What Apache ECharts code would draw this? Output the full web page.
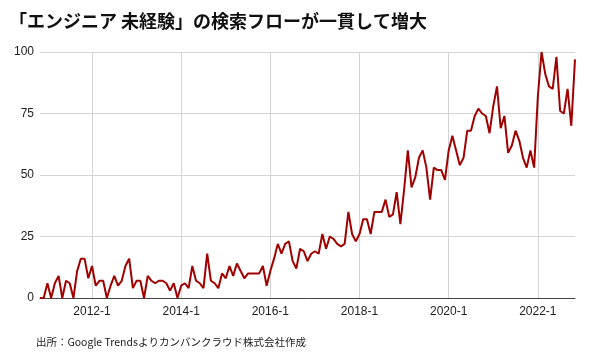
<!DOCTYPE html>
<html>
<head>
<meta charset="utf-8">
<script src="https://cdn.jsdelivr.net/npm/echarts@6/dist/echarts.min.js"></script>
<style>
html,body{margin:0;padding:0;background:#fff;}
#chart{width:590px;height:362px;}
</style>
</head>
<body>
<div id="chart"></div>
<script>
// Monthly categories from 2010-11 to 2022-11
const startYear = 2010, startMonth = 11, monthCount = 145;
const categories = [];
for (let i = 0; i < monthCount; i++) {
  const m = startMonth - 1 + i;
  categories.push((startYear + Math.floor(m / 12)) + '-' + (m % 12 + 1));
}
const tickLabels = ['2012-1', '2014-1', '2016-1', '2018-1', '2020-1', '2022-1'];
const yTicks = [0, 25, 50, 75, 100];
const searchValues = [
  0,0,6,0,6,9,0,7,6,0,
  11,16,16,8,13,5,7,7,0,5,
  9,5,7,13,16,4,7,7,0,9,
  7,6,7,7,6,3,6,0,5,6,
  4,13,7,6,4,18,7,6,4,10,
  8,13,9,14,11,8,10,10,10,10,
  13,5,11,16,22,18,22,23,15,12,
  20,19,15,18,19,18,26,20,25,24,
  22,21,22,35,26,23,26,32,32,26,
  35,35,35,40,33,34,43,30,44,60,
  45,49,57,60,53,40,53,52,52,48,
  60,66,60,54,57,68,68,74,77,75,
  74,67,78,86,69,74,59,62,68,64,
  57,53,60,53,82,100,91,86,85,98,
  76,75,85,70,97
];
const titleText = '「エンジニア 未経験」の検索フローが一貫して増大';
const sourceText = '出所：Google Trendsよりカンバンクラウド株式会社作成';

const showTick = (idx, val) => tickLabels.indexOf(categories[idx]) >= 0;
const chart = echarts.init(document.getElementById('chart'), null, {renderer: 'canvas'});
chart.setOption({
  animation: false,
  backgroundColor: '#fff',
  title: {
    text: titleText,
    left: 4, top: 7,
    textStyle: {fontSize: 18, fontWeight: 'bold', color: '#111', fontFamily: '"Noto Sans CJK JP", sans-serif'}
  },
  grid: {left: 40, right: 15, top: 52, bottom: 64, containLabel: false},
  xAxis: {
    type: 'category',
    data: categories,
    boundaryGap: false,
    axisLine: {show: true, lineStyle: {color: '#444', width: 1}},
    axisTick: {show: false},
    axisLabel: {interval: showTick, color: '#222', fontSize: 12, margin: 8, fontFamily: 'Liberation Sans, Arial, sans-serif'},
    splitLine: {show: true, interval: showTick, lineStyle: {color: '#d4d4d4', width: 1}}
  },
  yAxis: {
    type: 'value',
    min: yTicks[0], max: yTicks[yTicks.length - 1], interval: 25,
    axisLine: {show: false},
    axisTick: {show: false},
    axisLabel: {color: '#222', fontSize: 12, margin: 6, fontFamily: 'Liberation Sans, Arial, sans-serif'},
    splitLine: {show: true, lineStyle: {color: '#d4d4d4', width: 1}}
  },
  series: [{
    type: 'line',
    data: searchValues,
    showSymbol: false,
    lineStyle: {color: '#a00000', width: 2},
    itemStyle: {color: '#a00000'}
  }],
  graphic: [{
    type: 'text',
    left: 36, top: 337,
    style: {text: sourceText, fontSize: 10.5, fill: '#222', fontFamily: '"Noto Sans CJK JP", sans-serif'}
  }]
});
</script>
</body>
</html>
